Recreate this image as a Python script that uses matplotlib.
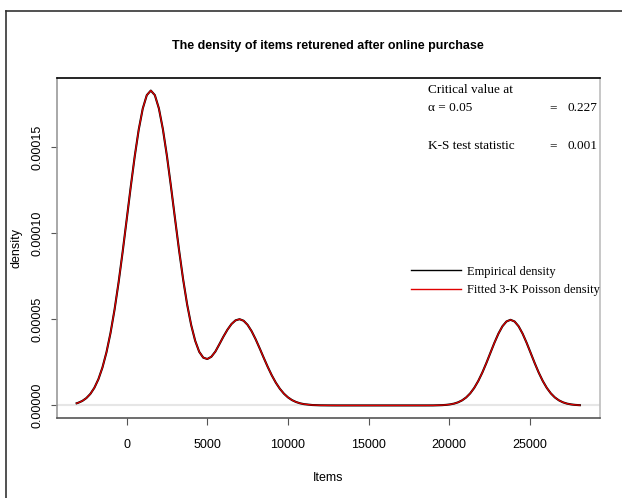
import matplotlib
matplotlib.use("Agg")
import matplotlib.pyplot as plt
from matplotlib.lines import Line2D

# Items grid and density values (returned items after online purchase)
items = [-3100, -3000, -2750, -2500, -2250, -2000, -1750, -1500, -1250, -1000,
         -750, -500, -250, 0, 250, 500, 750, 1000, 1250, 1500,
         1750, 2000, 2250, 2500, 2750, 3000, 3250, 3500, 3750, 4000,
         4250, 4500, 4750, 5000, 5250, 5500, 5750, 6000, 6250, 6500,
         6750, 7000, 7250, 7500, 7750, 8000, 8250, 8500, 8750, 9000,
         9250, 9500, 9750, 10000, 10250, 10500, 10750, 11000, 11500, 12000,
         12500, 13000, 13500, 14000, 14500, 15000, 15500, 16000, 16500, 17000,
         17500, 18000, 18500, 19000, 19300, 19550, 19800, 20050, 20300, 20550,
         20800, 21050, 21300, 21550, 21800, 22050, 22300, 22550, 22800, 23050,
         23300, 23550, 23800, 24050, 24300, 24550, 24800, 25050, 25300, 25550,
         25800, 26050, 26300, 26550, 26800, 27050, 27300, 27550, 27800, 28050,
         28100]

empirical_density = [
    0.126e-5, 0.156e-5, 0.261e-5, 0.425e-5, 0.670e-5, 1.026e-5, 1.526e-5, 2.205e-5, 3.091e-5, 4.210e-5,
    5.566e-5, 7.146e-5, 8.909e-5, 10.786e-5, 12.679e-5, 14.472e-5, 16.041e-5, 17.264e-5, 18.043e-5, 18.310e-5,
    18.043e-5, 17.271e-5, 16.054e-5, 14.497e-5, 12.723e-5, 10.861e-5, 9.034e-5, 7.347e-5, 5.878e-5, 4.681e-5,
    3.760e-5, 3.120e-5, 2.780e-5, 2.700e-5, 2.830e-5, 3.130e-5, 3.560e-5, 4.002e-5, 4.405e-5, 4.733e-5,
    4.947e-5, 5.015e-5, 4.927e-5, 4.686e-5, 4.316e-5, 3.846e-5, 3.317e-5, 2.770e-5, 2.238e-5, 1.749e-5,
    1.323e-5, 0.969e-5, 0.687e-5, 0.471e-5, 0.312e-5, 0.201e-5, 0.125e-5, 0.075e-5, 0.025e-5, 0.007e-5,
    0.002e-5, 0.0, 0.0, 0.0, 0.0, 0.0, 0.0, 0.0, 0.0, 0.0,
    0.0, 0.0, 0.0, 0.001e-5, 0.009e-5, 0.017e-5, 0.033e-5, 0.061e-5, 0.107e-5, 0.182e-5,
    0.297e-5, 0.465e-5, 0.702e-5, 1.019e-5, 1.422e-5, 1.907e-5, 2.460e-5, 3.052e-5, 3.640e-5, 4.175e-5,
    4.605e-5, 4.883e-5, 4.980e-5, 4.883e-5, 4.605e-5, 4.175e-5, 3.640e-5, 3.052e-5, 2.460e-5, 1.907e-5,
    1.422e-5, 1.019e-5, 0.702e-5, 0.465e-5, 0.297e-5, 0.182e-5, 0.107e-5, 0.061e-5, 0.033e-5, 0.017e-5,
    0.015e-5]

# fitted 3-K Poisson mixture sits on top of the empirical curve (K-S = 0.001)
fitted_density = list(empirical_density)

x_ticks = [0, 5000, 10000, 15000, 20000, 25000]
y_ticks = [0.0, 0.00005, 0.00010, 0.00015]
y_tick_labels = ["0.00000", "0.00005", "0.00010", "0.00015"]

crit_alpha = "0.05"
crit_value = "0.227"
ks_stat = "0.001"

W, H = 622, 498
sans = ["Liberation Sans Narrow", "Liberation Sans", "DejaVu Sans"]
serif = ["Liberation Serif", "DejaVu Serif"]

fig = plt.figure(figsize=(W / 100, H / 100), dpi=100)
ax = fig.add_axes([56.5 / W, 1 - 418 / H, (600 - 56.5) / W, (418 - 78) / H])

ax.axhline(0, color="#e6e6e6", lw=1.5, zorder=1)
ax.plot(items, empirical_density, color="black", lw=1.5, zorder=2, label="Empirical density")
ax.plot(items, fitted_density, color="#e00000", lw=0.9, zorder=3, label="Fitted 3-K Poisson density")

ax.set_xlim(-4348, 29348)
ax.set_ylim(-0.0000073, 0.0001904)

ax.set_xticks(x_ticks)
ax.set_xticklabels([str(v) for v in x_ticks], family=sans, fontsize=9)
ax.set_yticks(y_ticks)
ax.set_yticklabels(y_tick_labels, family=sans, fontsize=9, rotation=90, va="center")
ax.tick_params(axis="x", length=5, width=0.8, color="#555555", pad=10)
ax.tick_params(axis="y", length=4.5, width=0.8, color="#555555", pad=5)

ax.spines["top"].set_color("black")
ax.spines["left"].set_color("#9a9a9a")
ax.spines["right"].set_color("#bdbdbd")
ax.spines["bottom"].set_color("#555555")
for s in ax.spines.values():
    s.set_linewidth(1.2)

ax.set_xlabel("Items", family=sans, fontsize=9, labelpad=15)
ax.set_ylabel("density", family=sans, fontsize=9, labelpad=6)

fig.text(328 / W, 1 - 46 / H, "The density of items returened after online purchase",
         family=sans, fontsize=9, fontweight="bold", ha="center", va="center")

# critical value / K-S annotation
tx = lambda px: (px - 56.5) / 543.5
ty = lambda py: (418 - py) / 340
ax.text(tx(428), ty(90), "Critical value at", transform=ax.transAxes,
        family=serif, fontsize=9.5, va="center")
ax.text(tx(428), ty(108), "\u03b1 = " + crit_alpha, transform=ax.transAxes,
        family=serif, fontsize=9.5, va="center")
ax.text(tx(549), ty(108), "=", transform=ax.transAxes, family=serif, fontsize=9.5, va="center")
ax.text(tx(567), ty(108), crit_value, transform=ax.transAxes, family=serif, fontsize=9.5, va="center")
ax.text(tx(428), ty(146), "K-S test statistic", transform=ax.transAxes,
        family=serif, fontsize=9.5, va="center")
ax.text(tx(549), ty(146), "=", transform=ax.transAxes, family=serif, fontsize=9.5, va="center")
ax.text(tx(567), ty(146), ks_stat, transform=ax.transAxes, family=serif, fontsize=9.5, va="center")

leg = ax.legend(loc="center left", bbox_to_anchor=(tx(411), ty(281)), frameon=False,
                prop={"family": serif, "size": 9}, handlelength=4.0, handletextpad=0.5,
                labelspacing=0.55, borderpad=0, borderaxespad=0)
for ln in leg.get_lines():
    ln.set_linewidth(1.0)

# outer frame
fig.add_artist(Line2D([5.5 / W, 5.5 / W], [0, 1 - 11.5 / H], color="#333333", lw=1.2,
                      transform=fig.transFigure))
fig.add_artist(Line2D([5.5 / W, 1], [1 - 11.5 / H, 1 - 11.5 / H], color="#333333", lw=1.2,
                      transform=fig.transFigure))

fig.savefig("out.png", dpi=100)
